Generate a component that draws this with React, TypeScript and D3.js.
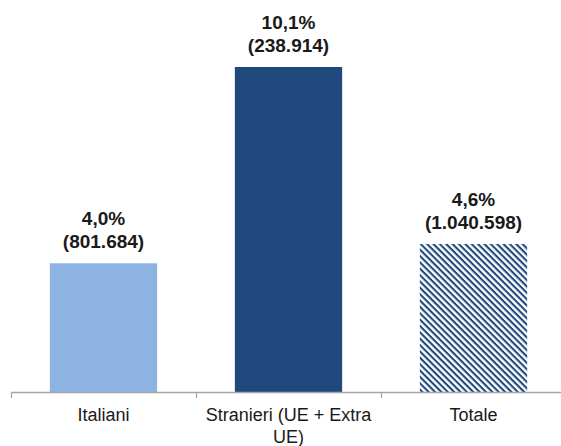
import * as d3 from 'd3'
import { useMemo } from 'react'

const categories = ['Italiani', 'Stranieri (UE + Extra UE)', 'Totale']
const percentValues = [4.0, 10.1, 4.6]
const percentLabels = ['4,0%', '10,1%', '4,6%']
const countLabels = ['(801.684)', '(238.914)', '(1.040.598)']
const categoryLines = [['Italiani'], ['Stranieri (UE + Extra', 'UE)'], ['Totale']]

const WIDTH = 561
const HEIGHT = 446
const MARGIN = { top: 67, right: -5, bottom: 54, left: 11 }
const FONT = "'Liberation Sans Narrow', 'Arial Narrow', 'Liberation Sans', Arial, sans-serif"

const BarChart = () => {
    const boundsHeight = HEIGHT - MARGIN.top - MARGIN.bottom

    const xScale = useMemo(() => {
        return d3.scaleBand<string>()
            .domain(categories)
            .range([MARGIN.left, WIDTH - MARGIN.right])
            .paddingInner(0.42)
            .paddingOuter(0.21)
    }, [])

    const yScale = useMemo(() => {
        return d3.scaleLinear()
            .domain([0, d3.max(percentValues) as number])
            .range([MARGIN.top + boundsHeight, MARGIN.top])
    }, [boundsHeight])

    const baseY = yScale(0)
    const step = xScale.step()
    const tickXs = d3.range(categories.length + 1).map(i => MARGIN.left + i * step)

    const fills = ['#8DB3E2', '#1F497D', 'url(#hatch)']

    return (
        <svg width={WIDTH} height={HEIGHT} style={{ position: 'absolute', left: 0, top: 0 }}
            fontFamily={FONT}>
            <defs>
                {/* dark blue diagonal stripes, top-left to bottom-right */}
                <pattern id="hatch" patternUnits="userSpaceOnUse" width={4.5} height={4.5}
                    patternTransform="rotate(45)">
                    <rect width={4.5} height={4.5} fill="#ffffff" />
                    <rect x={0} y={0} width={4.5} height={2.1} fill="#1F497D" />
                </pattern>
            </defs>
            {categories.map((c, i) => {
                const x = xScale(c) as number
                const y = yScale(percentValues[i])
                const cx = x + xScale.bandwidth() / 2
                return (
                    <g key={c}>
                        <rect x={x} y={y} width={xScale.bandwidth()} height={baseY - y} fill={fills[i]} />
                        <text x={cx} y={y - 38} textAnchor="middle" fontWeight="bold" fontSize={19} fill="#1a1a1a">
                            {percentLabels[i]}
                        </text>
                        <text x={cx} y={y - 15} textAnchor="middle" fontWeight="bold" fontSize={19} fill="#1a1a1a">
                            {countLabels[i]}
                        </text>
                    </g>
                )
            })}
            <line x1={MARGIN.left} x2={WIDTH} y1={baseY + 0.5} y2={baseY + 0.5} stroke="#A6A6A6" strokeWidth={1.3} />
            {tickXs.map((tx, i) => (
                <line key={i} x1={tx + 0.5} x2={tx + 0.5} y1={baseY} y2={baseY + 6} stroke="#A6A6A6" strokeWidth={1.3} />
            ))}
            {categories.map((c, i) => {
                const cx = (xScale(c) as number) + xScale.bandwidth() / 2
                return (
                    <text key={c} x={cx} y={baseY + 29} textAnchor="middle" fontSize={18} fill="#1a1a1a">
                        {categoryLines[i].map((line, j) => (
                            <tspan key={j} x={cx} dy={j === 0 ? 0 : 22}>{line}</tspan>
                        ))}
                    </text>
                )
            })}
        </svg>
    )
}

export default function App() {
    return <BarChart />
}
